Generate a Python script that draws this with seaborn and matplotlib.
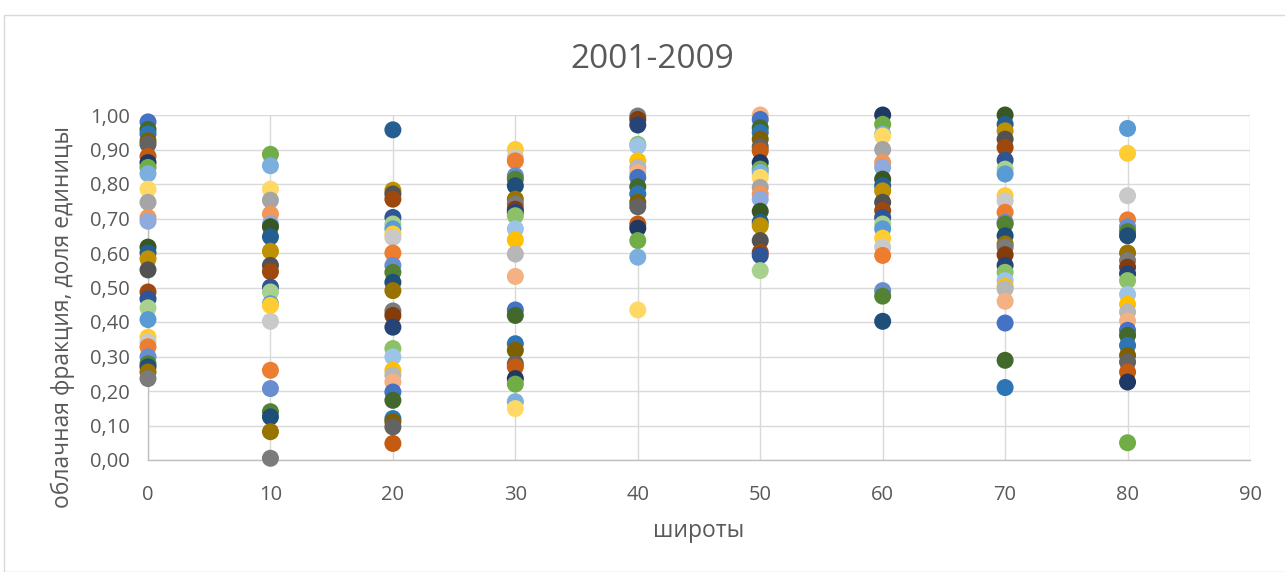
import matplotlib.pyplot as plt
import seaborn as sns
import pandas as pd
from matplotlib.patches import Rectangle
from matplotlib.ticker import FuncFormatter

# cloud fraction, grouped by latitude
lat_0 = [0.98, 0.958, 0.945, 0.925, 0.915, 0.88, 0.862, 0.848, 0.83, 0.785, 0.747, 0.703, 0.692,
         0.617, 0.60, 0.583, 0.551, 0.487, 0.467, 0.441, 0.407, 0.356, 0.342, 0.328, 0.299,
         0.279, 0.27, 0.255, 0.236]
lat_10 = [0.886, 0.853, 0.785, 0.753, 0.713, 0.684, 0.676, 0.647, 0.605, 0.564, 0.546, 0.501,
          0.487, 0.453, 0.448, 0.402, 0.26, 0.207, 0.14, 0.125, 0.082, 0.005]
lat_20 = [0.957, 0.782, 0.771, 0.756, 0.703, 0.684, 0.67, 0.655, 0.645, 0.60, 0.564, 0.544,
          0.515, 0.491, 0.432, 0.419, 0.385, 0.323, 0.299, 0.26, 0.246, 0.226, 0.197, 0.173,
          0.12, 0.111, 0.096, 0.048]
lat_30 = [0.90, 0.877, 0.867, 0.824, 0.814, 0.795, 0.756, 0.742, 0.727, 0.718, 0.708, 0.67,
          0.638, 0.597, 0.532, 0.435, 0.419, 0.337, 0.318, 0.279, 0.27, 0.236, 0.22, 0.169, 0.149]
lat_40 = [0.997, 0.987, 0.971, 0.915, 0.91, 0.867, 0.848, 0.833, 0.819, 0.792, 0.771, 0.747,
          0.734, 0.684, 0.672, 0.636, 0.588, 0.435]
lat_50 = [1.0, 0.987, 0.963, 0.949, 0.93, 0.908, 0.896, 0.862, 0.843, 0.833, 0.819, 0.79, 0.771,
          0.756, 0.721, 0.689, 0.679, 0.636, 0.602, 0.593, 0.549]
lat_60 = [1.0, 0.973, 0.944, 0.939, 0.90, 0.862, 0.848, 0.814, 0.795, 0.78, 0.747, 0.723, 0.703,
          0.684, 0.67, 0.643, 0.617, 0.593, 0.491, 0.475, 0.402]
lat_70 = [1.0, 0.973, 0.954, 0.93, 0.906, 0.869, 0.843, 0.829, 0.766, 0.751, 0.718, 0.689, 0.684,
          0.65, 0.626, 0.617, 0.595, 0.564, 0.544, 0.52, 0.503, 0.496, 0.46, 0.397, 0.289, 0.21]
lat_80 = [0.961, 0.889, 0.766, 0.696, 0.676, 0.662, 0.65, 0.60, 0.578, 0.559, 0.54, 0.52, 0.48,
          0.451, 0.429, 0.403, 0.376, 0.361, 0.332, 0.303, 0.284, 0.255, 0.226, 0.05]

latitudes = [0, 10, 20, 30, 40, 50, 60, 70, 80]
columns = [lat_0, lat_10, lat_20, lat_30, lat_40, lat_50, lat_60, lat_70, lat_80]

# Excel-like series colours
office = ['#4472C4', '#ED7D31', '#A5A5A5', '#FFC000', '#5B9BD5', '#70AD47',
          '#264478', '#9E480E', '#636363', '#997300', '#255E91', '#43682B',
          '#698ED0', '#F1975A', '#B7B7B7', '#FFCD33', '#7CAFDD', '#8CC168',
          '#2F5597', '#C55A11', '#7B7B7B', '#BF9000', '#2E75B6', '#548235',
          '#8FAADC', '#F4B183', '#C9C9C9', '#FFD966', '#9DC3E6', '#A9D18E',
          '#1F3864', '#843C0C', '#525252', '#7F6000', '#1F4E79', '#385723']

rows = []
for c, (lat, vals) in enumerate(zip(latitudes, columns)):
    for j, v in enumerate(vals):
        rows.append({'lat': lat, 'frac': v, 'series': (j * 11 + c * 5) % len(office)})
df = pd.DataFrame(rows)

sns.set_style('white')
plt.rcParams['font.family'] = ['Open Sans', 'DejaVu Sans']
grey = '#595959'

fig = plt.figure(figsize=(12.85, 5.72), dpi=100)
fig.patches.append(Rectangle((4 / 1285, 0), 1.0, 1 - 15 / 572, transform=fig.transFigure,
                             fill=False, edgecolor='#D9D9D9', linewidth=1))
ax = fig.add_axes([148 / 1285, 1 - 460 / 572, (1250 - 148) / 1285, 345 / 572])

sns.scatterplot(data=df, x='lat', y='frac', hue='series', palette=office,
                hue_order=list(range(len(office))), s=150, linewidth=0,
                legend=False, ax=ax, clip_on=False, zorder=3)

ax.set_xlim(0, 90)
ax.set_ylim(0, 1.0)
ax.set_xticks(range(0, 91, 10))
ax.set_yticks([i / 10 for i in range(11)])
ax.yaxis.set_major_formatter(FuncFormatter(lambda v, p: f'{v:.2f}'.replace('.', ',')))
ax.grid(True, color='#D9D9D9', linewidth=1)
ax.set_axisbelow(True)
for side in ['top', 'right']:
    ax.spines[side].set_visible(False)
for side in ['left', 'bottom']:
    ax.spines[side].set_color('#BFBFBF')
    ax.spines[side].set_linewidth(1)
ax.tick_params(length=0, labelsize=14.5, colors=grey)
ax.tick_params(axis='x', pad=18)
ax.tick_params(axis='y', pad=13)

fig.text(652 / 1285, 1 - 60 / 572, '2001-2009', fontsize=24, color=grey,
         ha='center', va='center')
ax.set_xlabel('широты', fontsize=16.5, color=grey, labelpad=10)
ax.set_ylabel('облачная фракция, доля единицы', fontsize=16.5, color=grey)
ax.yaxis.set_label_coords(-0.066, 0.414)

fig.savefig('out.png', dpi=100, facecolor='white')
